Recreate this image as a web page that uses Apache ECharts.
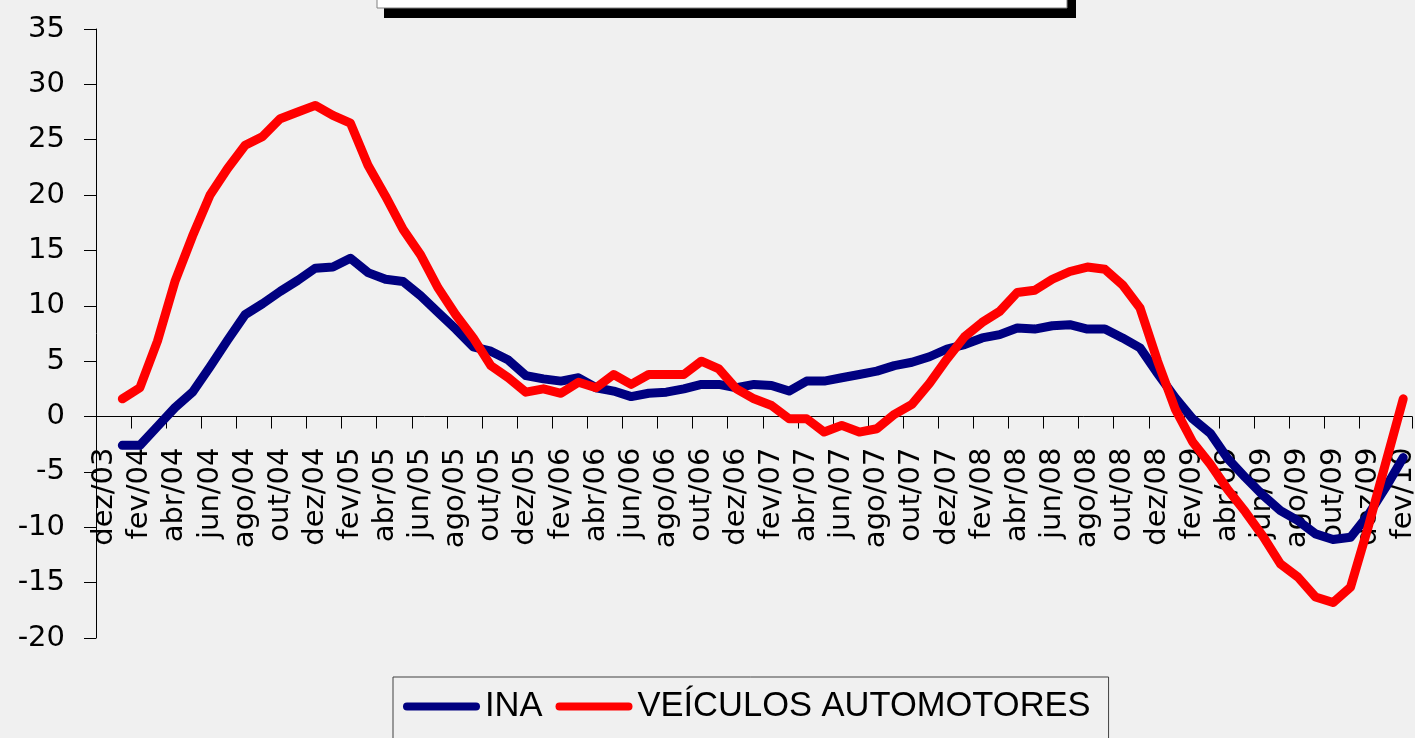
<!DOCTYPE html>
<html>
<head>
<meta charset="utf-8">
<script src="https://cdn.jsdelivr.net/npm/echarts@6/dist/echarts.min.js"></script>
<style>
html,body{margin:0;padding:0;background:#f0f0f0;}
#chart{width:1415px;height:738px;}
</style>
</head>
<body>
<div id="chart"></div>
<script>
const categories = [
 'dez/03','jan/04','fev/04','mar/04','abr/04','mai/04','jun/04','jul/04','ago/04','set/04','out/04','nov/04',
 'dez/04','jan/05','fev/05','mar/05','abr/05','mai/05','jun/05','jul/05','ago/05','set/05','out/05','nov/05',
 'dez/05','jan/06','fev/06','mar/06','abr/06','mai/06','jun/06','jul/06','ago/06','set/06','out/06','nov/06',
 'dez/06','jan/07','fev/07','mar/07','abr/07','mai/07','jun/07','jul/07','ago/07','set/07','out/07','nov/07',
 'dez/07','jan/08','fev/08','mar/08','abr/08','mai/08','jun/08','jul/08','ago/08','set/08','out/08','nov/08',
 'dez/08','jan/09','fev/09','mar/09','abr/09','mai/09','jun/09','jul/09','ago/09','set/09','out/09','nov/09',
 'dez/09','jan/10','fev/10'
];
const seriesNames = ['INA', 'VEÍCULOS AUTOMOTORES'];
const ina = [
 null,-2.6,-2.6,-0.9,0.8,2.2,4.5,6.9,9.2,10.2,11.3,12.3,
 13.4,13.5,14.3,13.0,12.4,12.2,10.9,9.4,7.9,6.3,5.9,5.1,
 3.7,3.4,3.2,3.5,2.6,2.3,1.8,2.1,2.2,2.5,2.9,2.9,
 2.6,2.9,2.8,2.3,3.2,3.2,3.5,3.8,4.1,4.6,4.9,5.4,
 6.1,6.5,7.1,7.4,8.0,7.9,8.2,8.3,7.9,7.9,7.1,6.2,
 3.9,1.7,-0.2,-1.5,-3.8,-5.5,-7.1,-8.5,-9.4,-10.6,-11.1,-10.9,
 -8.9,-6.4,-3.7
];
const veiculos = [
 null,1.6,2.6,6.8,12.2,16.3,20.0,22.4,24.5,25.3,26.9,27.5,
 28.1,27.2,26.5,22.7,19.9,16.9,14.6,11.6,9.2,7.1,4.6,3.5,
 2.2,2.5,2.1,3.1,2.6,3.8,2.9,3.8,3.8,3.8,5.0,4.3,
 2.5,1.6,1.0,-0.2,-0.2,-1.4,-0.8,-1.4,-1.1,0.2,1.1,3.0,
 5.2,7.2,8.5,9.5,11.2,11.4,12.4,13.1,13.5,13.3,11.9,9.8,
 5.0,0.7,-2.3,-4.3,-6.6,-8.6,-10.8,-13.3,-14.5,-16.3,-16.8,-15.4,
 -10.0,-4.2,1.6
];
const yMin = -20, yMax = 35, yStep = 5;

const gridLeft = 96, gridRight = 3, gridTop = 29, gridBottom = 100, H = 738;
const plotH = H - gridTop - gridBottom;
const zeroY = gridTop + plotH * (yMax - 0) / (yMax - yMin);

const chart = echarts.init(document.getElementById('chart'), null, {renderer: 'canvas'});
const axisFont = 'DejaVu Sans';
const labelStyle = {interval: 1, rotate: 90, margin: 31, fontFamily: axisFont, fontSize: 29, color: '#000'};
chart.setOption({
  animation: false,
  backgroundColor: '#f0f0f0',
  grid: [
    {left: gridLeft, right: gridRight, top: gridTop, bottom: gridBottom, containLabel: false, outerBoundsMode: 'none'},
    {left: gridLeft, right: gridRight, top: 0, bottom: H - zeroY, containLabel: false, outerBoundsMode: 'none'}
  ],
  xAxis: [
    {
      type: 'category', gridIndex: 0,
      data: categories,
      boundaryGap: true,
      axisLine: {onZero: true, lineStyle: {color: '#000', width: 1}},
      axisTick: {show: true, interval: 1, length: 12, lineStyle: {color: '#000', width: 1}},
      axisLabel: {show: false},
      splitLine: {show: false}
    },
    {
      type: 'category', gridIndex: 1,
      data: categories,
      boundaryGap: true,
      axisLine: {show: false},
      axisTick: {show: false},
      axisLabel: labelStyle,
      splitLine: {show: false}
    }
  ],
  yAxis: [
    {
      type: 'value', gridIndex: 0,
      min: yMin, max: yMax, interval: yStep,
      axisLine: {show: true, lineStyle: {color: '#000', width: 1}},
      axisTick: {show: true, length: 12, lineStyle: {color: '#000', width: 1}},
      axisLabel: {margin: 31, fontFamily: axisFont, fontSize: 29, color: '#000'},
      splitLine: {show: false}
    },
    {type: 'value', gridIndex: 1, show: false, min: 0, max: 1}
  ],
  legend: {
    data: seriesNames,
    left: 393, top: 677,
    padding: [12, 18, 40, 10],
    itemGap: 13,
    itemWidth: 77, itemHeight: 8,
    icon: 'path://M4,0 H73 A4,4 0 0 1 73,8 H4 A4,4 0 0 1 4,0 Z',
    borderColor: '#404040', borderWidth: 1,
    textStyle: {fontFamily: 'Liberation Sans', fontSize: 34.5, color: '#000'}
  },
  graphic: [
    {type: 'rect', shape: {x: 384, y: -10, width: 692, height: 28}, style: {fill: '#000'}, silent: true},
    {type: 'rect', shape: {x: 377, y: -10, width: 690, height: 18}, style: {fill: '#fff', stroke: '#808080', lineWidth: 1}, silent: true}
  ],
  series: [
    {name: seriesNames[0], type: 'line', xAxisIndex: 0, yAxisIndex: 0, data: ina, symbol: 'none', color: '#000080',
     lineStyle: {width: 9, color: '#000080', cap: 'round', join: 'round'}},
    {name: seriesNames[1], type: 'line', xAxisIndex: 0, yAxisIndex: 0, data: veiculos, symbol: 'none', color: '#ff0000',
     lineStyle: {width: 9, color: '#ff0000', cap: 'round', join: 'round'}}
  ]
});
</script>
</body>
</html>
